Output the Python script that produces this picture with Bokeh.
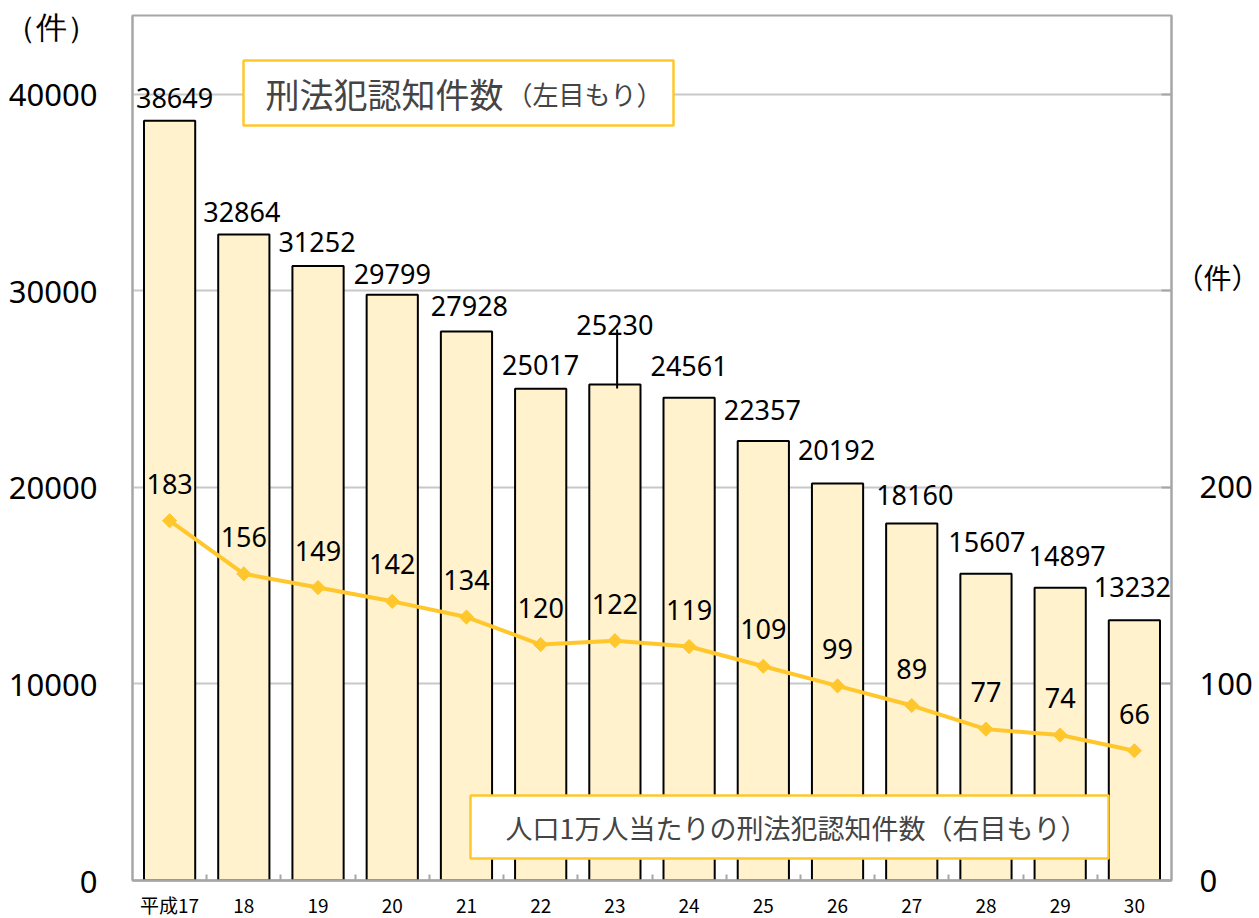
import math
from bokeh.plotting import figure
from bokeh.models import (Range1d, LinearAxis, FixedTicker, ColumnDataSource,
                          LabelSet, Label, BoxAnnotation, NumeralTickFormatter)
from bokeh.core.properties import value
from bokeh.embed import file_html
from bokeh.resources import INLINE

# ---------------- data ----------------
years = ["平成17", "18", "19", "20", "21", "22", "23", "24", "25", "26", "27", "28", "29", "30"]
crimes = [38649, 32864, 31252, 29799, 27928, 25017, 25230, 24561, 22357, 20192, 18160, 15607, 14897, 13232]
rate = [183, 156, 149, 142, 134, 120, 122, 119, 109, 99, 89, 77, 74, 66]
left_ticks = [0, 10000, 20000, 30000, 40000]
right_ticks = [0, 100, 200, 300, 400]
right_tick_text = ["0", "100", "200", "", ""]
unit_label = "（件）"
legend_bar_main = "刑法犯認知件数"
legend_bar_note = "（左目もり）"
legend_line = "人口1万人当たりの刑法犯認知件数（右目もり）"

# ---------------- style ----------------
FRAME_W, FRAME_H = 1039, 865
Y_MAX, R_MAX = 44000, 440
GOLD = "#FFC72C"
BAR_FILL = "#FFF2CC"
GRID = "#C8C8C8"
FRAME = "#A6A6A6"
NUM_FONT = "Noto Sans"
JP_FONT = "Noto Sans CJK JP"
bar_label_dx = [5, -2, -1, 0, 3, 0, 0, 0, -1, -1, 3, 1, 7, -2]
bar_label_dy = [23, 22, 24, 21, 25, 24, 60, 32, 31, 34, 28, 32, 32, 33]
LEADER_INDEX = 6

# page-pixel helpers (frame: x 132..1171, y 15..880 on the page)
PX_PER_X = FRAME_W / 14
UPP = Y_MAX / FRAME_H
UPP_R = R_MAX / FRAME_H


def px_x(px):
    return 0.5 + (px - 132) / PX_PER_X


def px_y(py):
    return (880 - py) * UPP


def px_r(py):
    return (880 - py) * UPP_R


xs = list(range(1, len(years) + 1))

p = figure(frame_width=FRAME_W, frame_height=FRAME_H, x_range=Range1d(0.5, len(years) + 0.5),
           y_range=Range1d(0, Y_MAX), output_backend="svg", toolbar_location=None,
           min_border_left=132, min_border_right=88, min_border_top=15, min_border_bottom=38)
p.background_fill_color = "white"
p.border_fill_color = "white"
p.outline_line_color = FRAME
p.outline_line_width = 2

# grid
p.xgrid.visible = False
p.ygrid.ticker = FixedTicker(ticks=left_ticks)
p.ygrid.grid_line_color = GRID
p.ygrid.grid_line_width = 2

# left axis (the unit caption sits on it as an extra tick label)
left_unit_pos = px_y(25)
ya = p.yaxis[0]
ya.ticker = FixedTicker(ticks=left_ticks + [left_unit_pos])
ya.major_label_overrides = {left_unit_pos: unit_label}
ya.formatter = NumeralTickFormatter(format="0")
ya.major_label_text_font = NUM_FONT
ya.major_label_text_font_size = "31px"
ya.major_label_text_color = "black"
ya.major_label_standoff = 35
ya.major_tick_out = 0
ya.major_tick_in = 0
ya.minor_tick_line_color = None
ya.axis_line_color = FRAME
ya.axis_line_width = 2

# bottom axis
xa = p.xaxis[0]
xa.ticker = FixedTicker(ticks=xs, minor_ticks=[x + 0.5 for x in xs[:-1]])
xa.major_label_overrides = {x: lab for x, lab in zip(xs, years)}
xa.major_label_text_font = JP_FONT
xa.major_label_text_font_size = "19px"
xa.major_label_text_color = "black"
xa.major_label_standoff = 10
xa.major_tick_line_color = None
xa.major_tick_in = 0
xa.major_tick_out = 0
xa.minor_tick_in = 6
xa.minor_tick_out = 0
xa.minor_tick_line_color = FRAME
xa.minor_tick_line_width = 2
xa.axis_line_color = FRAME
xa.axis_line_width = 2.5

# right axis
p.extra_y_ranges = {"rate": Range1d(0, R_MAX)}
ra = LinearAxis(y_range_name="rate", ticker=FixedTicker(ticks=right_ticks),
                major_label_overrides={t: s for t, s in zip(right_ticks, right_tick_text)})
ra.major_label_text_font = NUM_FONT
ra.major_label_text_font_size = "31px"
ra.major_label_text_color = "black"
ra.major_label_standoff = 28
ra.major_tick_out = 0
ra.major_tick_in = 10
ra.major_tick_line_color = FRAME
ra.major_tick_line_width = 2
ra.minor_tick_line_color = None
ra.axis_line_color = FRAME
ra.axis_line_width = 2
p.add_layout(ra, "right")

# unit caption of the right scale: a label-only axis stacked outside the right axis
right_unit_pos = px_r(276)
ru = LinearAxis(y_range_name="rate", ticker=FixedTicker(ticks=[right_unit_pos]),
                major_label_overrides={right_unit_pos: unit_label})
ru.major_label_text_font = JP_FONT
ru.major_label_text_font_size = "28px"
ru.major_label_text_color = "black"
ru.major_label_standoff = -80
ru.major_tick_in = 0
ru.major_tick_out = 0
ru.major_tick_line_color = None
ru.minor_tick_line_color = None
ru.axis_line_color = None
p.add_layout(ru, "right")

# bars
src = ColumnDataSource(dict(x=xs, crimes=crimes, rate=rate,
                            clab=[str(v) for v in crimes], rlab=[str(v) for v in rate],
                            dx=bar_label_dx, dy=bar_label_dy))
p.vbar(x="x", top="crimes", width=0.69, source=src, fill_color=BAR_FILL,
       line_color="black", line_width=2)

# leader line for one bar label
li = LEADER_INDEX
p.segment(x0=[xs[li] + 0.03], y0=[crimes[li] - 4 * UPP], x1=[xs[li] + 0.03],
          y1=[crimes[li] + 55 * UPP], line_color="black", line_width=2)

# line series
p.line(x="x", y="rate", source=src, y_range_name="rate", line_color=GOLD, line_width=4)
p.scatter(x="x", y="rate", source=src, y_range_name="rate", marker="square",
          angle=math.pi / 4, size=10, fill_color=GOLD, line_color=GOLD)

# value labels
p.add_layout(LabelSet(x="x", y="crimes", text="clab", source=src, x_offset="dx", y_offset="dy",
                      text_align="center", text_baseline="middle",
                      text_font=value(NUM_FONT), text_font_size=value("27px"), text_color="black"))
p.add_layout(LabelSet(x="x", y="rate", text="rlab", source=src, y_range_name="rate", y_offset=37,
                      text_align="center", text_baseline="middle",
                      text_font=value(NUM_FONT), text_font_size=value("27px"), text_color="black"))

# legend boxes
p.add_layout(BoxAnnotation(left=px_x(243), right=px_x(673), top=px_y(60), bottom=px_y(125),
                           fill_color="white", fill_alpha=1, line_color=GOLD, line_width=2.5,
                           line_alpha=1))
p.add_layout(BoxAnnotation(left=px_x(470), right=px_x(1108), top=px_y(795), bottom=px_y(858),
                           fill_color="white", fill_alpha=1, line_color=GOLD, line_width=2.5,
                           line_alpha=1))
p.add_layout(Label(x=px_x(265), y=px_y(93), text=legend_bar_main, text_font=JP_FONT,
                   text_font_size="34px", text_align="left", text_baseline="middle"))
p.add_layout(Label(x=px_x(506), y=px_y(93), text=legend_bar_note, text_font=JP_FONT,
                   text_font_size="26px", text_align="left", text_baseline="middle"))
p.add_layout(Label(x=px_x(796), y=px_y(827), text=legend_line, text_font=JP_FONT,
                   text_font_size="27px", text_align="center", text_baseline="middle"))

open("out.html", "w").write(file_html(p, INLINE))
